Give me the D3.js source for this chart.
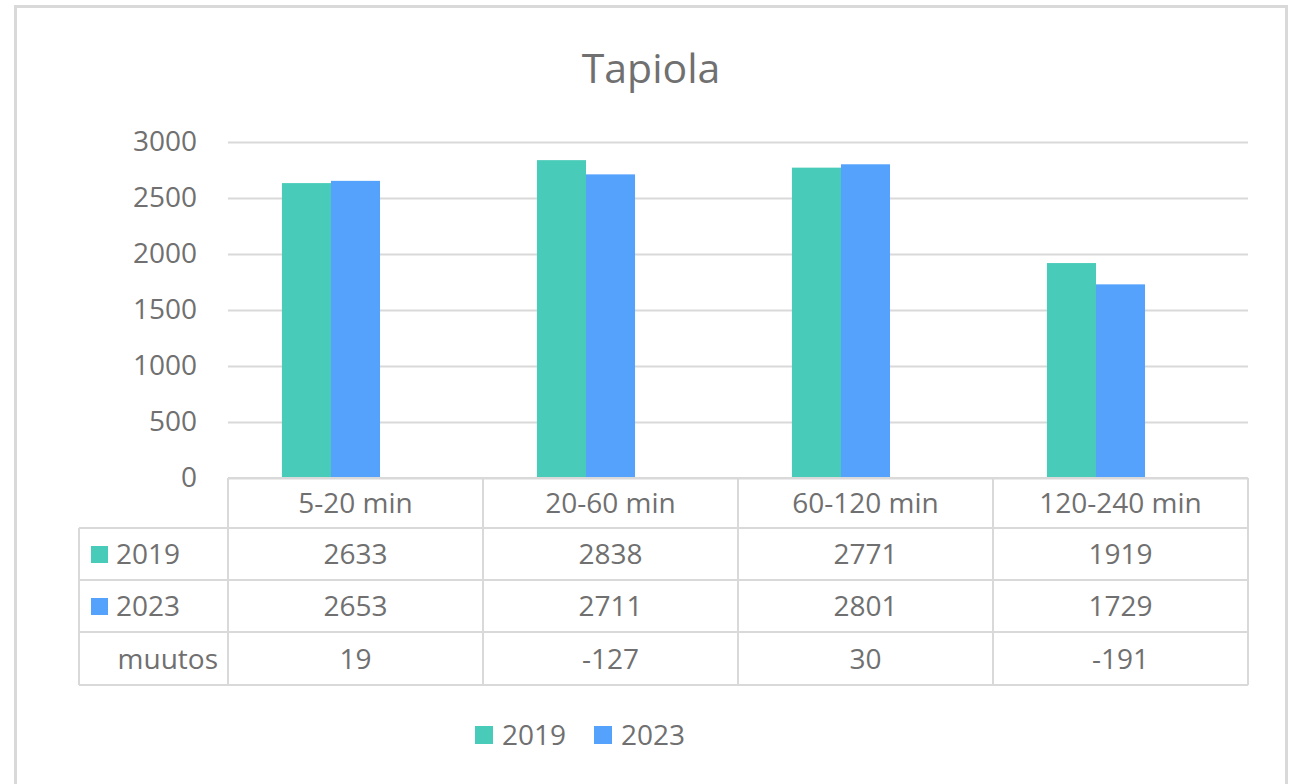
<!DOCTYPE html>
<html>
<head>
<meta charset="utf-8">
<script src="https://cdn.jsdelivr.net/npm/d3@7"></script>
<style>
  body { margin: 0; background: #fff; }
  text { font-family: "Open Sans", sans-serif; fill: #707070; }
</style>
</head>
<body>
<div id="chart"></div>
<script>
// data
var categories = ["5-20 min", "20-60 min", "60-120 min", "120-240 min"];
var series = ["2019", "2023"];
var values2019 = [2633, 2838, 2771, 1919];
var values2023 = [2653, 2711, 2801, 1729];
var muutos = [19, -127, 30, -191];
var yTicks = [0, 500, 1000, 1500, 2000, 2500, 3000];

var colors = {"2019": "#48cbb8", "2023": "#55a2fc"};
var gridColor = "#d9d9d9";

var width = 1289, height = 784;
var plot = {left: 228, right: 1248, top: 142, bottom: 478};

var svg = d3.select("#chart").append("svg")
    .attr("width", width)
    .attr("height", height);

// chart border
svg.append("rect")
    .attr("x", 15.5).attr("y", 6.5)
    .attr("width", 1271).attr("height", 800)
    .attr("fill", "none")
    .attr("stroke", gridColor)
    .attr("stroke-width", 3);

svg.append("text")
    .attr("x", 651).attr("y", 83)
    .attr("text-anchor", "middle")
    .style("font-size", "41px")
    .text("Tapiola");

var y = d3.scaleLinear().domain([0, 3000]).range([plot.bottom, plot.top]);
var x0 = d3.scaleBand().domain(categories).range([plot.left, plot.right]);
// third slot is muutos, it is in the series but draws nothing visible
var x1 = d3.scaleBand().domain(["2019", "2023", "muutos"])
    .range([0, x0.bandwidth()]).paddingInner(0).paddingOuter(1.1);

// gridlines + tick labels
var yAxis = svg.append("g")
    .attr("transform", "translate(" + plot.left + ",0)")
    .call(d3.axisLeft(y).tickValues(yTicks).tickFormat(d3.format("d"))
      .tickSize(-(plot.right - plot.left)).tickPadding(31));
yAxis.select(".domain").remove();
yAxis.selectAll(".tick line").attr("stroke", gridColor).attr("stroke-width", 2);
yAxis.selectAll(".tick text")
    .attr("fill", "#707070")
    .style("font-family", "'Open Sans', sans-serif")
    .style("font-size", "28px");

// bars
var rows = categories.map(function(c, i) {
  return {cat: c, "2019": values2019[i], "2023": values2023[i], muutos: muutos[i]};
});

var groups = svg.append("g").selectAll("g")
    .data(rows)
  .enter().append("g")
    .attr("transform", function(d) { return "translate(" + x0(d.cat) + ",0)"; });

groups.selectAll("rect")
    .data(function(d) { return series.map(function(k) { return {key: k, value: d[k]}; }); })
  .enter().append("rect")
    .attr("x", function(d) { return x1(d.key); })
    .attr("width", x1.bandwidth())
    .attr("y", function(d) { return y(d.value); })
    .attr("height", function(d) { return y(0) - y(d.value); })
    .attr("fill", function(d) { return colors[d.key]; });

// data table
var tableLeft = 79;
var rowEdges = [478, 528, 580, 632, 685];
var tbl = svg.append("g").attr("stroke", gridColor).attr("stroke-width", 2);

rowEdges.forEach(function(ry, i) {
  tbl.append("line")
      .attr("x1", i === 0 ? plot.left : tableLeft).attr("x2", plot.right)
      .attr("y1", ry).attr("y2", ry);
});
tbl.append("line").attr("x1", tableLeft).attr("x2", tableLeft)
    .attr("y1", rowEdges[1]).attr("y2", rowEdges[4]);
categories.forEach(function(c) {
  tbl.append("line").attr("x1", x0(c)).attr("x2", x0(c))
      .attr("y1", rowEdges[0]).attr("y2", rowEdges[4]);
});
tbl.append("line").attr("x1", plot.right).attr("x2", plot.right)
    .attr("y1", rowEdges[0]).attr("y2", rowEdges[4]);

function rowBase(i) { return (rowEdges[i] + rowEdges[i + 1]) / 2 + 10; }

// header
svg.append("g").selectAll("text")
    .data(categories)
  .enter().append("text")
    .attr("x", function(d) { return x0(d) + x0.bandwidth() / 2; })
    .attr("y", rowBase(0))
    .attr("text-anchor", "middle")
    .style("font-size", "28px")
    .text(function(d) { return d; });

var tableRows = [
  {label: "2019", vals: values2019, key: "2019"},
  {label: "2023", vals: values2023, key: "2023"},
  {label: "muutos", vals: muutos, key: null}
];

tableRows.forEach(function(r, i) {
  var by = rowBase(i + 1);
  if (r.key) {
    svg.append("rect")
        .attr("x", 91).attr("y", by - 18)
        .attr("width", 17).attr("height", 17)
        .attr("fill", colors[r.key]);
    svg.append("text").attr("x", 116).attr("y", by)
        .style("font-size", "28px").text(r.label);
  } else {
    svg.append("text").attr("x", 218).attr("y", by)
        .attr("text-anchor", "end")
        .style("font-size", "28px").text(r.label);
  }
  svg.append("g").selectAll("text")
      .data(r.vals)
    .enter().append("text")
      .attr("x", function(d, j) { return x0(categories[j]) + x0.bandwidth() / 2; })
      .attr("y", by)
      .attr("text-anchor", "middle")
      .style("font-size", "28px")
      .text(function(d) { return d; });
});

// legend
var legend = svg.append("g").selectAll("g")
    .data(series)
  .enter().append("g")
    .attr("transform", function(d, i) { return "translate(" + (475 + i * 119) + ",726)"; });
legend.append("rect")
    .attr("width", 18).attr("height", 18)
    .attr("fill", function(d) { return colors[d]; });
legend.append("text")
    .attr("x", 27).attr("y", 19)
    .style("font-size", "28px")
    .text(function(d) { return d; });
</script>
</body>
</html>
